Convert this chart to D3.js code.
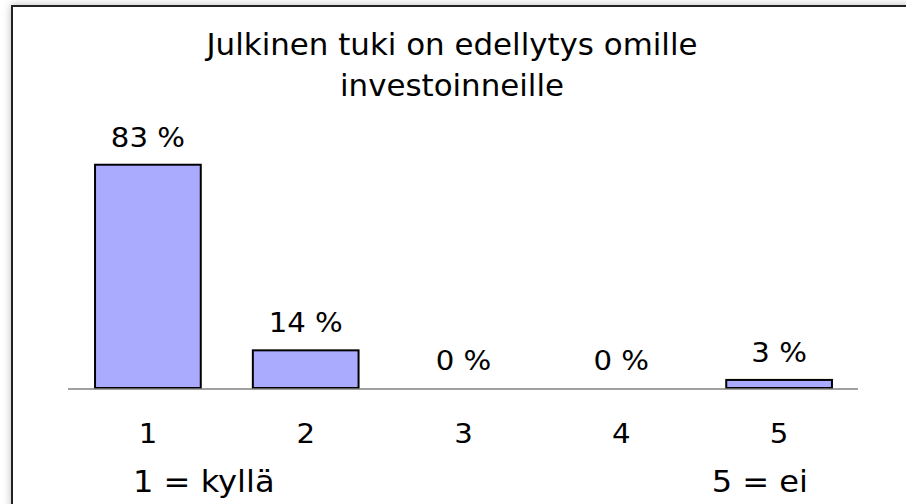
<!DOCTYPE html>
<html>
<head>
<meta charset="utf-8">
<script src="https://cdn.jsdelivr.net/npm/d3@7"></script>
<style>
body { margin: 0; background: #fff; }
svg { display: block; }
text { font-family: "DejaVu Sans", Verdana, sans-serif; fill: #000; }
</style>
</head>
<body>
<script>
var width = 906;
var height = 504;

var titleLines = ["Julkinen tuki on edellytys omille", "investoinneille"];
var categories = ["1", "2", "3", "4", "5"];
var values = [83, 14, 0, 0, 3];
var scaleNotes = ["1 = kyllä", "5 = ei"];

var svg = d3.select("body")
    .append("svg")
    .attr("width", width)
    .attr("height", height);

var defs = svg.append("defs");
var blur = defs.append("filter").attr("id", "shadow")
    .attr("x", "-5%").attr("y", "-5%").attr("width", "110%").attr("height", "110%");
blur.append("feGaussianBlur").attr("stdDeviation", 4);

// frame with soft shadow
svg.append("rect")
    .attr("x", 11).attr("y", 5)
    .attr("width", width).attr("height", height)
    .attr("fill", "#bbb")
    .attr("filter", "url(#shadow)");
svg.append("rect")
    .attr("x", 12).attr("y", 6)
    .attr("width", width).attr("height", height)
    .attr("fill", "#fff")
    .attr("stroke", "#222")
    .attr("stroke-width", 2);

var x = d3.scaleBand()
    .domain(categories)
    .range([69, 858])
    .paddingInner(0.33)
    .paddingOuter(0.165);

var y = d3.scaleLinear()
    .domain([0, 100])
    .range([388, 119]);

// the original text is a bit wider than DejaVu, so stretch it sideways
function place(sel, px, py, sx) {
    sel.attr("transform", "translate(" + px + "," + py + ") scale(" + sx + ",1)");
}

// title
svg.append("g")
    .selectAll("text")
    .data(titleLines)
    .enter()
    .append("text")
    .attr("text-anchor", "middle")
    .attr("font-size", "30px")
    .each(function(d, i) { place(d3.select(this), 452, 55 + i * 41, 1.03); })
    .text(function(d) { return d; });

// bars
svg.append("g")
    .selectAll("rect")
    .data(categories.map(function(c, i) { return {cat: c, value: values[i]}; })
        .filter(function(d) { return d.value > 0; }))
    .enter()
    .append("rect")
    .attr("x", function(d) { return x(d.cat); })
    .attr("y", function(d) { return y(d.value); })
    .attr("width", x.bandwidth())
    .attr("height", function(d) { return y(0) - y(d.value); })
    .attr("fill", "#aaaaff")
    .attr("stroke", "#000")
    .attr("stroke-width", 2);

// baseline
svg.append("line")
    .attr("x1", 68).attr("x2", 858)
    .attr("y1", y(0) + 1).attr("y2", y(0) + 1)
    .attr("stroke", "#808080")
    .attr("stroke-width", 1.5);

// value labels
svg.append("g")
    .selectAll("text")
    .data(values)
    .enter()
    .append("text")
    .attr("text-anchor", "middle")
    .attr("font-size", "27px")
    .each(function(d, i) {
        place(d3.select(this), x(categories[i]) + x.bandwidth() / 2, y(d) - 18, 1.08);
    })
    .text(function(d) { return d + " %"; });

// category labels
var xAxis = svg.append("g")
    .attr("transform", "translate(0," + 443 + ")")
    .call(d3.axisBottom(x).tickSize(0).tickPadding(0));
xAxis.select(".domain").remove();
xAxis.selectAll("text")
    .attr("dy", 0)
    .attr("y", 0)
    .attr("font-size", "27px")
    .attr("font-family", "DejaVu Sans, Verdana, sans-serif")
    .attr("fill", "#000")
    .attr("transform", "scale(1.08,1)")
    .attr("x", 0);

// scale notes
svg.append("text")
    .attr("font-size", "30px")
    .call(place, 133, 492, 1.07)
    .text(scaleNotes[0]);
svg.append("text")
    .attr("text-anchor", "end")
    .attr("font-size", "30px")
    .call(place, 808, 492, 1.07)
    .text(scaleNotes[1]);
</script>
</body>
</html>
